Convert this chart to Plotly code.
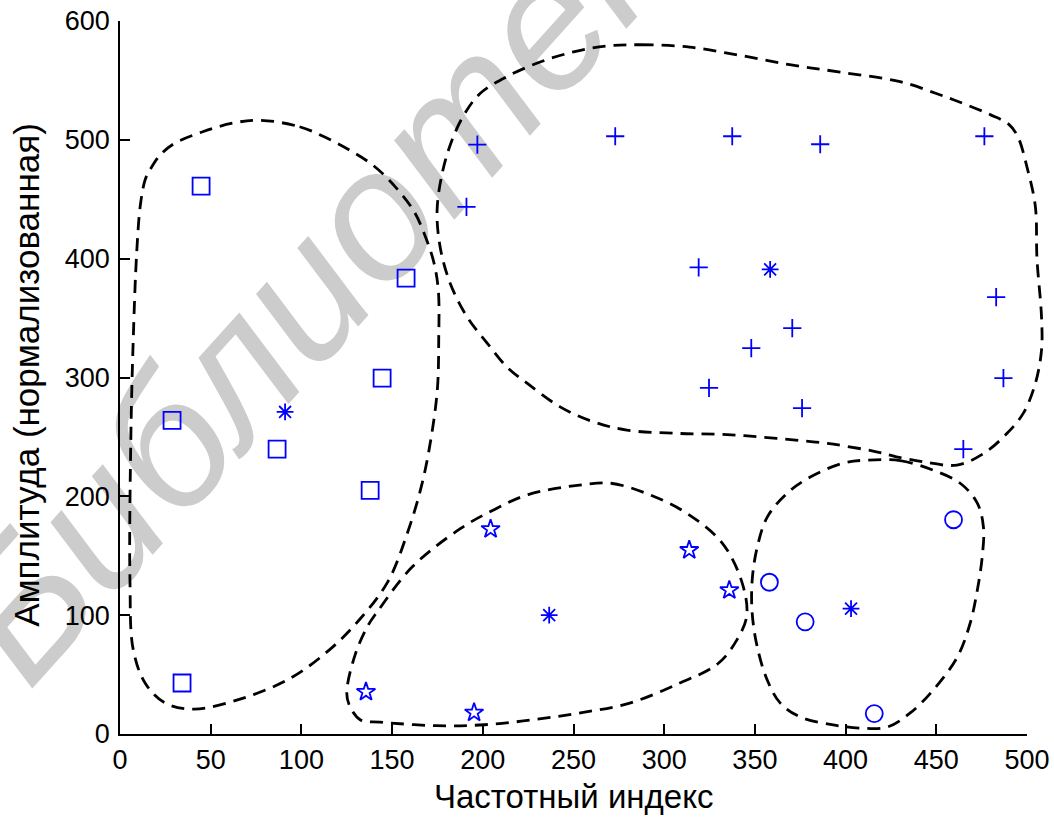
import plotly.graph_objects as go

# ---- data: points ----
squares_x = [44.7, 157.7, 144.5, 28.7, 86.6, 137.9, 34.2]
squares_y = [461, 383.6, 299.5, 264, 239.7, 205, 42.9]

plus_x = [197, 191, 273, 337.5, 386, 476.5, 319, 370.6, 348, 483, 487, 324.7, 376, 464.9]
plus_y = [496, 443.5, 503, 503, 496.3, 503, 392.7, 341.5, 324.7, 367.6, 299.5, 291.2, 274.2, 239.7]

stars_x = [204.3, 313.8, 335.9, 135.6, 195.2]
stars_y = [172.4, 154.8, 121, 35.4, 18]

circles_x = [459.5, 358, 377.7, 415.8]
circles_y = [180.3, 127.7, 94.4, 17.2]

centers_x = [91, 358.4, 236.6, 403]
centers_y = [271, 391, 100, 105.5]

# ---- data: cluster boundaries ----
b1_x = [77, 99, 114, 127, 140, 152, 162, 168, 173, 175.5, 175.7, 175, 171.7, 166.4, 158.4, 147.6,
        131.6, 115.6, 94, 67.5, 41, 25, 14, 7.3, 5.5, 6, 7.3, 9.2, 11.3, 14, 17, 22, 30, 46, 62]
b1_y = [516.5, 511, 501.5, 491, 478, 460, 440, 420, 397, 373, 332, 291, 251, 210, 169, 128,
        95.5, 71, 47, 30, 21, 26, 42.5, 71, 128, 251, 332, 405, 446, 467, 476, 487, 497, 507, 514]

b2_x = [268, 287, 314, 342, 370, 397, 430, 450, 465, 480, 490, 495, 500, 504.6, 505.5, 508, 508,
        504.6, 498, 489, 476, 461.4, 443, 428, 417, 390, 362, 334.6, 307, 279.4, 261, 242.6,
        224.4, 213.4, 202.4, 191.4, 182, 176.5, 174.8, 178, 183.6, 190, 198.5, 213, 231.6, 250]
b2_y = [579, 580, 578, 571, 563, 557, 549, 539, 530.5, 521, 513, 502.5, 477, 444, 400, 351, 323,
        295, 270, 253, 236, 226.3, 229, 233.3, 237.5, 244.5, 248.7, 252, 253, 255.7, 262.7, 275.3,
        295.3, 308.7, 329, 350.8, 379.4, 409.7, 440.8, 474.4, 502, 522, 539, 553, 565.5, 574]

b3_x = [254.6, 270.6, 291.8, 313.2, 332, 342.8, 345.5, 340, 329.4, 308, 281, 254.6, 227.8, 201,
        174.3, 143.4, 132.6, 126.8, 125, 129.7, 137, 142.2, 161, 187.8, 206.5, 225]
b3_y = [209.7, 211, 201.5, 185, 160.7, 128, 99.6, 79, 58.9, 42.5, 26, 18, 12, 7.8,
        7, 10, 11.8, 23, 34.5, 67, 92, 103.6, 140.5, 173, 189, 201.5]

b4_x = [412, 430, 448.3, 463.2, 472.6, 476, 475.3, 472.6, 468.7, 461.6, 448.3, 435.6, 423, 408,
        393.2, 375, 364, 356.8, 351.3, 348.5, 348.5, 351.3, 356.8, 367.8, 380.5, 398.7]
b4_y = [230.5, 230, 222, 211, 194.3, 174, 149, 121, 93.4, 64.8, 37, 17.7, 5.9, 5,
        7.6, 14.3, 26, 45.4, 73.2, 101.8, 129.5, 157.3, 182.5, 202.7, 216.2, 228]

x_ticks = [0, 50, 100, 150, 200, 250, 300, 350, 400, 450, 500]
y_ticks = [0, 100, 200, 300, 400, 500, 600]
x_range = [0, 500]
y_range = [0, 600]

x_title = "Частотный индекс"
y_title = "Амплитуда (нормализованная)"
watermark = "Библиотека"

BLUE = "#0000ff"
FONT = "Liberation Sans, Arial, sans-serif"

# layout geometry (pixels)
W, H = 1054, 824
ML, MR, MT, MB = 120, 5, 21, 90
AXIS_RIGHT_GAP = 22          # main x axis ends this many px before plot-area edge
plot_w = W - ML - MR
dom_right = (plot_w - AXIS_RIGHT_GAP) / plot_w
# wide, invisible x axis with identical scale so the boundary curves are not clipped at x=500
x2_range = [x_range[0], x_range[0] + (x_range[1] - x_range[0]) / dom_right]

fig = go.Figure()

for bx, by in [(b1_x, b1_y), (b2_x, b2_y), (b3_x, b3_y), (b4_x, b4_y)]:
    fig.add_trace(go.Scatter(
        x=bx + bx[:1], y=by + by[:1], mode="lines", xaxis="x2", yaxis="y",
        line=dict(color="black", width=2.8, dash="13px,8px", shape="spline", smoothing=1.0),
        hoverinfo="skip", showlegend=False))

def add_markers(xs, ys, symbol, size, width=1.8):
    fig.add_trace(go.Scatter(
        x=xs, y=ys, mode="markers", showlegend=False, cliponaxis=False,
        marker=dict(symbol=symbol, size=size, color=BLUE,
                    line=dict(color=BLUE, width=width))))

add_markers(squares_x, squares_y, "square-open", 17)
add_markers(plus_x, plus_y, "cross-thin-open", 13)
add_markers(stars_x, stars_y, "star-open", 14)
add_markers(circles_x, circles_y, "circle-open", 17)
add_markers(centers_x, centers_y, "asterisk-open", 14)

axis_common = dict(
    showline=True, linecolor="black", linewidth=1.5,
    ticks="inside", ticklen=10, tickwidth=1.5, tickcolor="black",
    showgrid=False, zeroline=False, mirror=False,
    tickfont=dict(family=FONT, size=27, color="black"),
)

fig.update_layout(
    width=W, height=H,
    margin=dict(l=ML, r=MR, t=MT, b=MB, autoexpand=False),
    paper_bgcolor="white", plot_bgcolor="rgba(0,0,0,0)",
    font=dict(family=FONT, color="black"),
    xaxis=dict(range=x_range, tickvals=x_ticks, domain=[0, dom_right],
               ticklabelstandoff=1, **axis_common),
    xaxis2=dict(range=x2_range, domain=[0, 1], anchor="y", visible=False,
                showgrid=False, zeroline=False),
    yaxis=dict(range=y_range, tickvals=y_ticks, ticklabelstandoff=3, **axis_common),
    shapes=[dict(
        type="rect", xref="paper", yref="paper",
        x0=0.215, x1=0.235, y0=0.688, y1=0.708,
        line=dict(width=0), fillcolor="rgba(0,0,0,0)", layer="below",
        label=dict(text=watermark, textangle=-48, textposition="middle center",
                   font=dict(family=FONT, size=185, color="#cccccc", style="italic")),
    )],
    annotations=[
        dict(text=x_title, xref="paper", yref="paper", x=0.5 * dom_right, y=-0.0883,
             xanchor="center", yanchor="middle", showarrow=False,
             font=dict(family=FONT, size=33, color="black")),
        dict(text=y_title, xref="paper", yref="paper", x=-0.101, y=0.504,
             xanchor="center", yanchor="middle", showarrow=False, textangle=-90,
             font=dict(family=FONT, size=35, color="black")),
    ],
)

fig.write_html("out.html")
